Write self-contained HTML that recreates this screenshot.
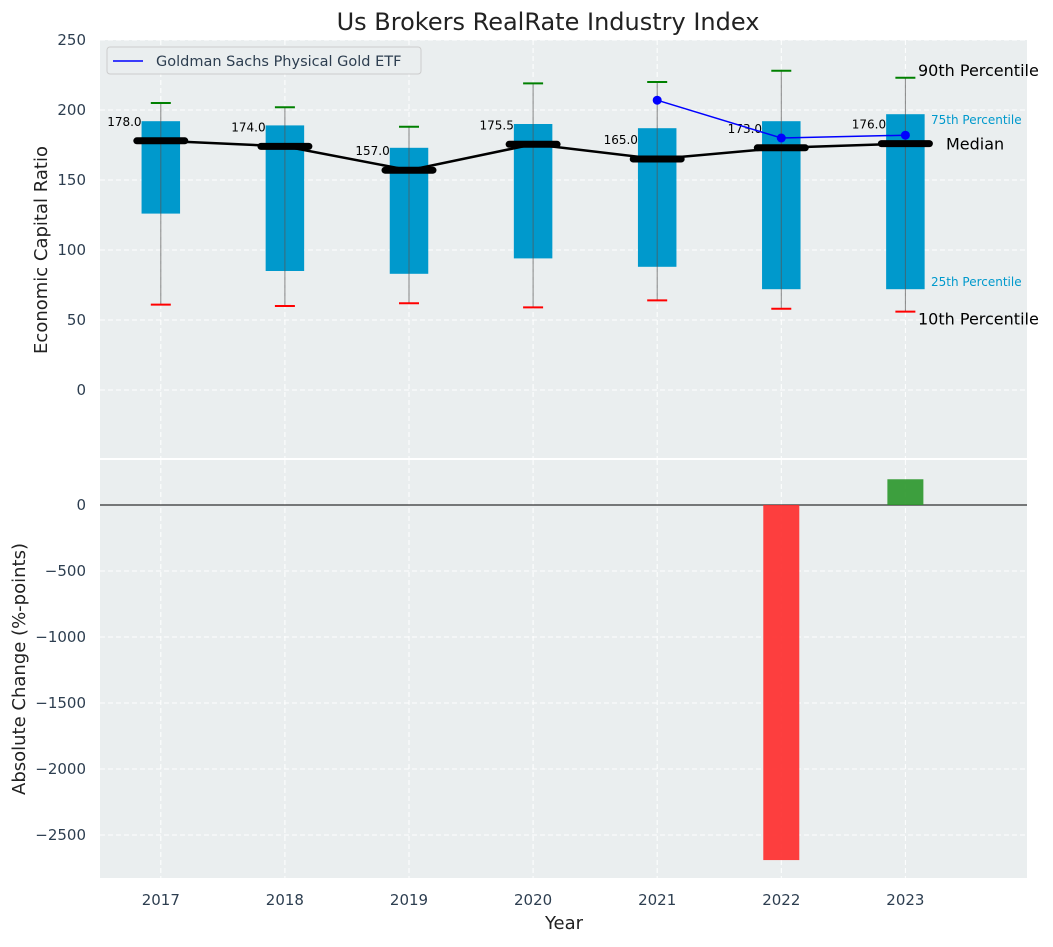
<!DOCTYPE html>
<html><head><meta charset="utf-8"><style>
body{margin:0;background:#fff;font-family:"Liberation Sans","DejaVu Sans",sans-serif;}
svg text{font-family:"DejaVu Sans","Liberation Sans",sans-serif;}
</style></head><body>
<svg id="c" width="1053" height="942" xmlns="http://www.w3.org/2000/svg"></svg>
<script>
const years=[2017,2018,2019,2020,2021,2022,2023];
const p10=[61,60,62,59,64,58,56];
const p25=[126,85,83,94,88,72,72];
const med=[178,174,157,175.5,165,173,176];
const p75=[192,189,173,190,187,192,197];
const p90=[205,202,188,219,220,228,223];
const etfYears=[2021,2022,2023];
const etfVals=[207,180,182];
const chgYears=[2022,2023];
const chgVals=[-2690,195];
const topTicks=[0,50,100,150,200,250];
const botTicks=[0,-500,-1000,-1500,-2000,-2500];

const NS="http://www.w3.org/2000/svg";
const svg=document.getElementById('c');
function el(t,a,txt){const e=document.createElementNS(NS,t);for(const k in a)e.setAttribute(k,a[k]);if(txt!==undefined)e.textContent=txt;svg.appendChild(e);return e;}
const L=100,R=1027;
const x=v=>L+(v-2016.51)/(2023.98-2016.51)*(R-L);
const yT=v=>390-v*1.4;
const yB=v=>505-v*0.132;
const bw=0.31*124.2;

let e;
e=el('rect',{x:L,y:40,width:R-L,height:418,fill:'#eaeeef'});

e=el('rect',{x:L,y:460,width:R-L,height:418,fill:'#eaeeef'});


topTicks.forEach(t=>{
 el('line',{x1:L,x2:R,y1:yT(t),y2:yT(t),stroke:'#fff','stroke-dasharray':'5,3','stroke-width':1});
 e=el('text',{x:86,y:yT(t)+5,'text-anchor':'end','font-size':15,fill:'#2d3e50'},t);
 
});
botTicks.forEach(t=>{
 el('line',{x1:L,x2:R,y1:yB(t),y2:yB(t),stroke:'#fff','stroke-dasharray':'5,3','stroke-width':1});
 e=el('text',{x:86,y:yB(t)+5,'text-anchor':'end','font-size':15,fill:'#2d3e50'},String(t).replace('-','\u2212'));
 
});
years.forEach(yr=>{
 el('line',{x1:x(yr),x2:x(yr),y1:40,y2:458,stroke:'#fff','stroke-dasharray':'5,3'});
 el('line',{x1:x(yr),x2:x(yr),y1:460,y2:878,stroke:'#fff','stroke-dasharray':'5,3'});
 e=el('text',{x:x(yr),y:905,'text-anchor':'middle','font-size':15,fill:'#2d3e50'},yr);
 
});

years.forEach((yr,i)=>{
 const cx=x(yr);
 e=el('rect',{x:cx-bw/2,y:yT(p75[i]),width:bw,height:yT(p25[i])-yT(p75[i]),fill:'#0099cc'});
 
 el('line',{x1:cx,x2:cx,y1:yT(p10[i]),y2:yT(p90[i]),stroke:'#555','stroke-width':1,opacity:0.7});
 el('line',{x1:cx-10,x2:cx+10,y1:yT(p90[i]),y2:yT(p90[i]),stroke:'green','stroke-width':2});
 el('line',{x1:cx-10,x2:cx+10,y1:yT(p10[i]),y2:yT(p10[i]),stroke:'red','stroke-width':2});
});
e=el('polyline',{points:years.map((yr,i)=>x(yr)+','+yT(med[i])).join(' '),fill:'none',stroke:'#000','stroke-width':2.5});

years.forEach((yr,i)=>{
 const cx=x(yr);
 e=el('line',{x1:cx-24,x2:cx+24,y1:yT(med[i]),y2:yT(med[i]),stroke:'#000','stroke-width':7,'stroke-linecap':'round'});
 
 e=el('text',{x:cx-bw/2,y:yT(med[i])-15,'text-anchor':'end','font-size':12,fill:'#000'},med[i].toFixed(1));
 
});
e=el('polyline',{points:etfYears.map((yr,i)=>x(yr)+','+yT(etfVals[i])).join(' '),fill:'none',stroke:'#0000ff','stroke-width':1.5});

etfYears.forEach((yr,i)=>{e=el('circle',{cx:x(yr),cy:yT(etfVals[i]),r:4.5,fill:'#0000ff'});
 });

const last=6;
e=el('text',{x:918,y:yT(p90[last])-2,'font-size':16,fill:'#000'},'90th Percentile');

e=el('text',{x:931,y:yT(p75[last])+10,'font-size':12,fill:'#0099cc'},'75th Percentile');

e=el('text',{x:946,y:yT(med[last])+6,'font-size':16,fill:'#000'},'Median');

e=el('text',{x:931,y:yT(p25[last])-3,'font-size':12,fill:'#0099cc'},'25th Percentile');

e=el('text',{x:918,y:yT(p10[last])+13,'font-size':16,fill:'#000'},'10th Percentile');


e=el('rect',{x:107,y:47,width:314,height:27,rx:3,fill:'#eaeeef',stroke:'#ccc'});

el('line',{x1:113,x2:143,y1:61,y2:61,stroke:'#0000ff','stroke-width':1.5});
el('text',{x:156,y:66,'font-size':14.5,fill:'#2d3e50'},'Goldman Sachs Physical Gold ETF');

el('line',{x1:L,x2:R,y1:yB(0),y2:yB(0),stroke:'#000','stroke-width':1});
chgYears.forEach((yr,i)=>{
 const v=chgVals[i];
 e=el('rect',{x:x(yr)-18,y:Math.min(yB(0),yB(v)),width:36,height:Math.abs(yB(v)-yB(0)),fill:v<0?'#ff2a2a':'#2a962a',opacity:0.9});
 
});

e=el('text',{x:548,y:30,'text-anchor':'middle','font-size':24,fill:'#222'},'Us Brokers RealRate Industry Index');

e=el('text',{x:564,y:929,'text-anchor':'middle','font-size':18,fill:'#222'},'Year');

e=el('text',{x:0,y:0,transform:'translate(47,250) rotate(-90)','text-anchor':'middle','font-size':18,fill:'#222'},'Economic Capital Ratio');

e=el('text',{x:0,y:0,transform:'translate(25,669) rotate(-90)','text-anchor':'middle','font-size':18,fill:'#222'},'Absolute Change (%-points)');

</script>
</body></html>
